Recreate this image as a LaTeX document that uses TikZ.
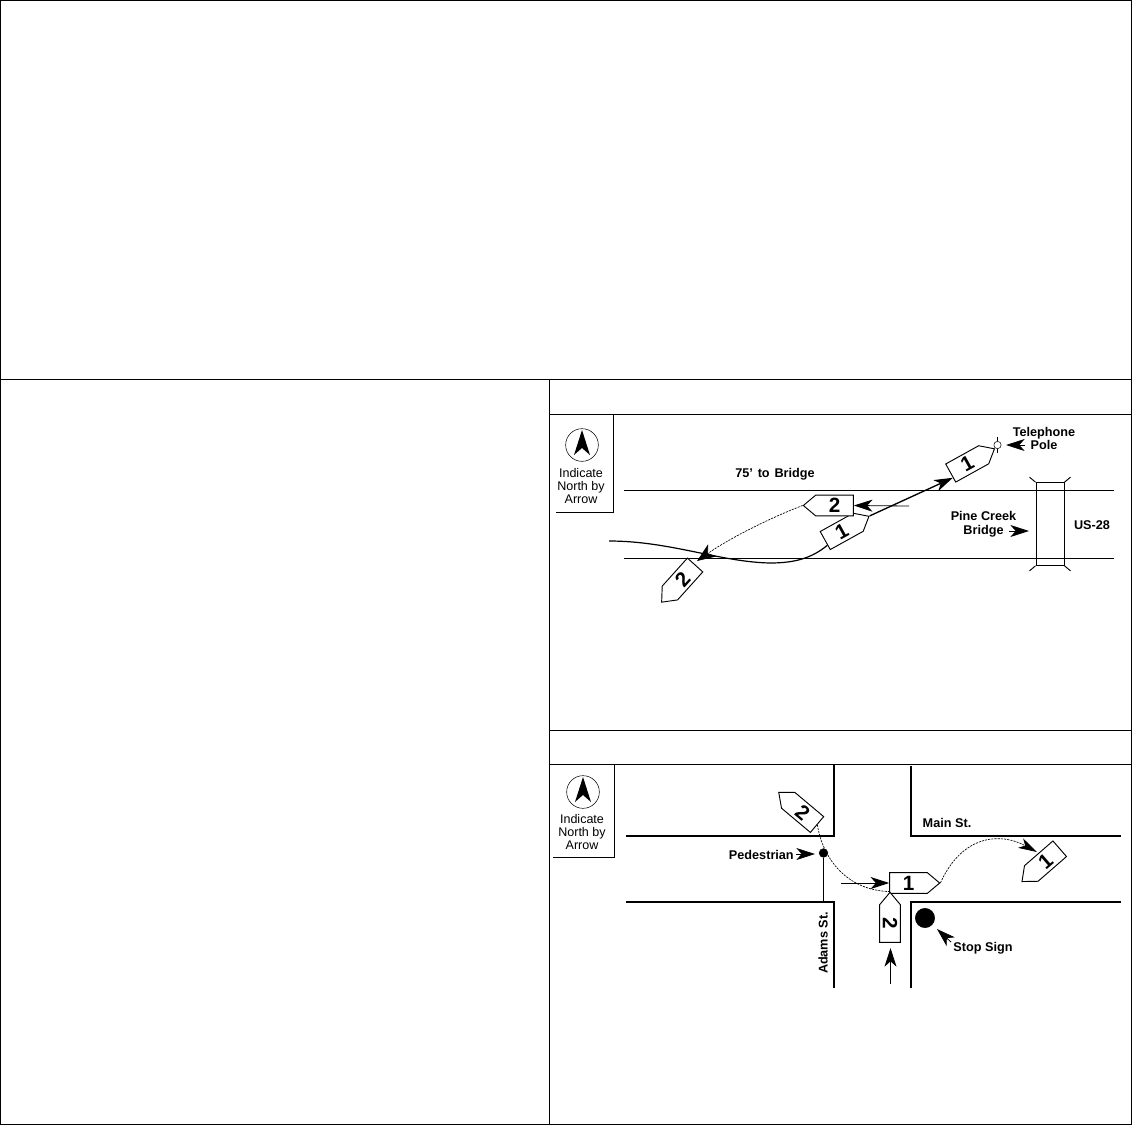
\documentclass[tikz,border=0pt]{standalone}
\usepackage{fontspec}
\setmainfont{Liberation Sans}
\usepackage{tikz}
\usetikzlibrary{shapes.symbols,arrows.meta}

\tikzset{
	vehicle/.style={draw, line width=0.7pt, signal, signal to=east, signal pointer angle=80, minimum width=37.5pt, minimum height=15.5pt, inner sep=0pt, fill=white, font=\bfseries\fontsize{15.5}{15.5}\selectfont},
	vehicleback/.style={vehicle, signal to=west},
	road/.style={line width=1.2pt},
	grid/.style={line width=0.7pt},
	lbl/.style={font=\fontsize{9.4}{10}\selectfont, align=center, inner sep=0pt},
	blbl/.style={lbl, font=\bfseries\fontsize{9.5}{10.3}\selectfont},
	pointer/.style={-{Stealth[length=14pt,width=9pt,inset=4pt]}, line width=0.6pt},
	track/.style={line width=0.5pt, dash pattern=on 1.6pt off 0.8pt},
	needle/.style={fill=black, draw=none},
}

\begin{document}
\begin{tikzpicture}[x=0.75pt, y=-0.75pt]
	\useasboundingbox (0,0) rectangle (1132,1125);

	% form grid
	\draw[grid] (0.5,0.5) rectangle (1131.5,1124.5);
	\draw[grid] (0,379.5) -- (1132,379.5);
	\draw[grid] (549.5,379.5) -- (549.5,1125);
	\draw[grid] (549.5,414) -- (1132,414);
	\draw[grid] (549.5,730) -- (1132,730);
	\draw[grid] (549.5,764) -- (1132,764);

	% north boxes
	\draw[grid] (613,414) -- (613,512) -- (556,512);
	\node[draw, circle, minimum size=24.5pt, inner sep=0pt] (compassA) at (582,445) {};
	\fill[needle] (582,430) -- (590,455) -- (582,448) -- (574,455) -- cycle;
	\node[lbl] (northA) at (581,486) {Indicate\\North by\\Arrow};

	\draw[grid] (614.5,764) -- (614.5,857) -- (553,857);
	\node[draw, circle, minimum size=24.5pt, inner sep=0pt] (compassB) at (583,792) {};
	\fill[needle] (583,777) -- (591,802) -- (583,795) -- (575,802) -- cycle;
	\node[lbl] (northB) at (582,832) {Indicate\\North by\\Arrow};

	% US-28 and the bridge
	\draw[line width=0.8pt] (624,490.5) -- (1114,490.5);
	\draw[road] (624,558.5) -- (1114,558.5);
	\node[draw, line width=0.7pt, minimum width=21pt, minimum height=62pt, inner sep=0pt] (bridge) at (1050,524) {};
	\draw[grid] (bridge.north west) -- ++(-6,-5);
	\draw[grid] (bridge.north east) -- ++(6,-5);
	\draw[grid] (bridge.south west) -- ++(-6,5);
	\draw[grid] (bridge.south east) -- ++(6,5);

	\node[blbl] (dist) at (775,474) {75'\hspace{1pt} to\hspace{1pt} Bridge};
	\node[blbl] (pine) at (983.5,524.5) {Pine Creek\\Bridge};
	\node[blbl] (us) at (1092,525) {US-28};
	\node[blbl] (phone) at (1044,438.5) {Telephone\\Pole};

	\node[vehicle, rotate=29] (oneA) at (967.2,463.9) {1};
	\node[vehicle, rotate=29] (oneB) at (841.7,531.4) {1};
	\node[vehicleback] (twoA) at (834.5,505.5) {2};
	\node[vehicleback, rotate=48] (twoB) at (682.5,579) {2};

	\node[draw, circle, minimum size=5.5pt, inner sep=0pt, fill=white] (pole) at (997.5,445) {};
	\coordinate (poleTop) at (997.5,437);
	\coordinate (poleFoot) at (997.5,453);
	\draw[grid] (poleTop) -- (pole);
	\draw[grid] (poleFoot) -- (pole);

	\coordinate (startOne) at (609,541);
	\coordinate (startTwo) at (909,506);
	\coordinate (pineTip) at (1029,531);
	\coordinate (pineTail) at (1009,531);
	\coordinate (phoneTail) at (1025,445);
	\coordinate (phoneTip) at (1006,445);
	\coordinate (twoBTip) at (697,561);

	\draw[line width=0.9pt] (startOne) .. controls (670,541) and (720,562) .. (770,563) .. controls (795,563) and (812,558) .. (oneB.195);
	\draw[track, -{Stealth[length=14pt,width=11pt,inset=4pt]}] (twoA.west) .. controls (770,518) and (730,538) .. (twoBTip);
	\draw[pointer] (startTwo) -- (twoA.east);
	\draw[pointer, line width=1pt] (oneB.east) -- (oneA.195);
	\draw[pointer] (pineTail) -- (pineTip);
	\draw[pointer] (phoneTail) -- (phoneTip);

	% Main St. and Adams St.
	\draw[road] (834,765) -- (834,836) -- (626,836);
	\draw[road] (626,902) -- (834,902) -- (834,988);
	\draw[road] (911,766) -- (911,836) -- (1121,836);
	\draw[road] (1121,902) -- (911,902) -- (911,988);

	\node[blbl] (main) at (947,823) {Main St.};
	\node[blbl, rotate=90] (adams) at (823,943) {Adams St.};
	\node[blbl, anchor=east] (walker) at (794,855) {Pedestrian};
	\node[blbl] (stop) at (983,948) {Stop Sign};

	\node[draw, circle, fill=black, minimum size=6.5pt, inner sep=0pt] (dot) at (823.5,853) {};
	\node[draw, circle, fill=black, minimum size=14.5pt, inner sep=0pt] (sign) at (925,918) {};
	\coordinate (dotFoot) at (823.5,902);
	\draw[grid] (dot) -- (dotFoot);

	\node[vehicleback, rotate=-40] (twoC) at (802.6,812.4) {2};
	\node[vehicle] (oneC) at (908.5,883) {1};
	\node[vehicleback, rotate=-90] (twoD) at (890,923.5) {2};
	\node[vehicleback, rotate=41] (oneD) at (1045.5,861.1) {1};

	\coordinate (startOneC) at (841,883);
	\coordinate (startTwoD) at (890.5,984);
	\coordinate (twoDTip) at (890.5,948);
	\coordinate (walkerTail) at (796,854);
	\coordinate (walkerTip) at (815,854);
	\coordinate (stopTail) at (951,942);
	\coordinate (stopTip) at (937,929);
	\coordinate (oneDTip) at (1037,852);

	\draw[track] (twoC.east) .. controls (821,850) and (840,890) .. (twoD.west);
	\draw[track, -{Stealth[length=14pt,width=8pt,inset=4pt]}] (oneC.east) .. controls (962,835) and (1000,832) .. (oneDTip);
	\draw[pointer] (startOneC) -- (oneC.west);
	\draw[pointer] (startTwoD) -- (twoDTip);
	\draw[pointer] (walkerTail) -- (walkerTip);
	\draw[pointer] (stopTail) -- (stopTip);
\end{tikzpicture}
\end{document}
